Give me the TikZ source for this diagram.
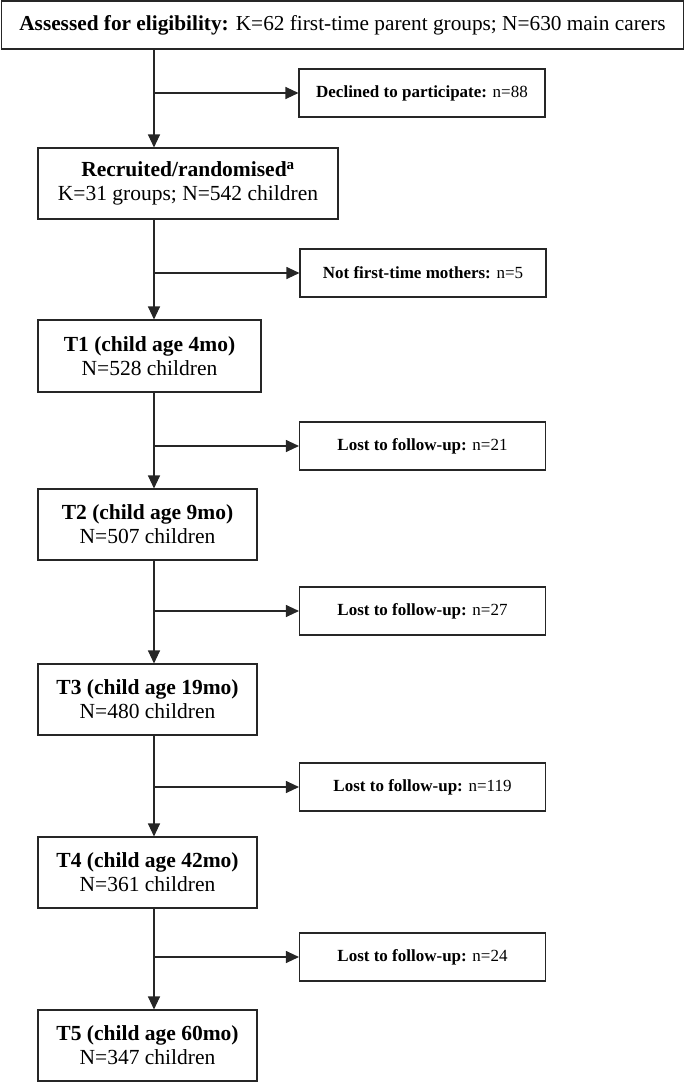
\documentclass[tikz,border=0pt]{standalone}
\usepackage{fontspec}
\setmainfont{Liberation Serif}
\usetikzlibrary{arrows.meta}
\begin{document}
\begin{tikzpicture}[x=1pt,y=-1pt,
  box/.style={draw=black!85, line width=1.1pt, inner sep=0pt, align=center},
  mainbox/.style={box, font=\fontsize{21.5}{24}\selectfont},
  sidebox/.style={box, minimum width=246pt, minimum height=48pt, font=\fontsize{17}{20}\selectfont},
  arr/.style={draw=black!85, line width=1.1pt, -{Triangle[length=13pt,width=12pt]}}]
\useasboundingbox (0,0) rectangle (685,1082);
\coordinate (col) at (154,0);
\node[box, font=\fontsize{21.3}{24}\selectfont, minimum width=682pt, minimum height=48pt] (top) at (342.5,25)
  {\textbf{Assessed for eligibility:} K=62 first-time parent groups; N=630 main carers};
\node[sidebox] (dec) at (422,93) {\textbf{Declined to participate:} n=88};
\node[mainbox, minimum width=300pt, minimum height=71pt] (rec) at (188,183.5)
  {\textbf{Recruited/randomised\textsuperscript{a}}\\K=31 groups; N=542 children};
\node[sidebox] (nf) at (423,273) {\textbf{Not first-time mothers:} n=5};
\node[mainbox, minimum width=223pt, minimum height=72pt] (t1) at (149.5,356)
  {\textbf{T1 (child age 4mo)}\\N=528 children};
\node[sidebox] (l1) at (422.5,446) {\textbf{Lost to follow-up:} n=21};
\node[mainbox, minimum width=219pt, minimum height=71pt] (t2) at (147.5,524.5)
  {\textbf{T2 (child age 9mo)}\\N=507 children};
\node[sidebox] (l2) at (422.5,611) {\textbf{Lost to follow-up:} n=27};
\node[mainbox, minimum width=219pt, minimum height=71pt] (t3) at (147.5,699.5)
  {\textbf{T3 (child age 19mo)}\\N=480 children};
\node[sidebox] (l3) at (422.5,787) {\textbf{Lost to follow-up:} n=119};
\node[mainbox, minimum width=219pt, minimum height=71pt] (t4) at (147.5,872.5)
  {\textbf{T4 (child age 42mo)}\\N=361 children};
\node[sidebox] (l4) at (422.5,957) {\textbf{Lost to follow-up:} n=24};
\node[mainbox, minimum width=219pt, minimum height=71pt] (t5) at (147.5,1045.5)
  {\textbf{T5 (child age 60mo)}\\N=347 children};
% vertical connectors
\draw[arr] (top.south -| col) -- (rec.north -| col);
\draw[arr] (rec.south -| col) -- (t1.north -| col);
\draw[arr] (t1.south -| col) -- (t2.north -| col);
\draw[arr] (t2.south -| col) -- (t3.north -| col);
\draw[arr] (t3.south -| col) -- (t4.north -| col);
\draw[arr] (t4.south -| col) -- (t5.north -| col);
% side branches
\draw[arr] (col |- dec.west) -- (dec.west);
\draw[arr] (col |- nf.west) -- (nf.west);
\draw[arr] (col |- l1.west) -- (l1.west);
\draw[arr] (col |- l2.west) -- (l2.west);
\draw[arr] (col |- l3.west) -- (l3.west);
\draw[arr] (col |- l4.west) -- (l4.west);
\end{tikzpicture}
\end{document}
